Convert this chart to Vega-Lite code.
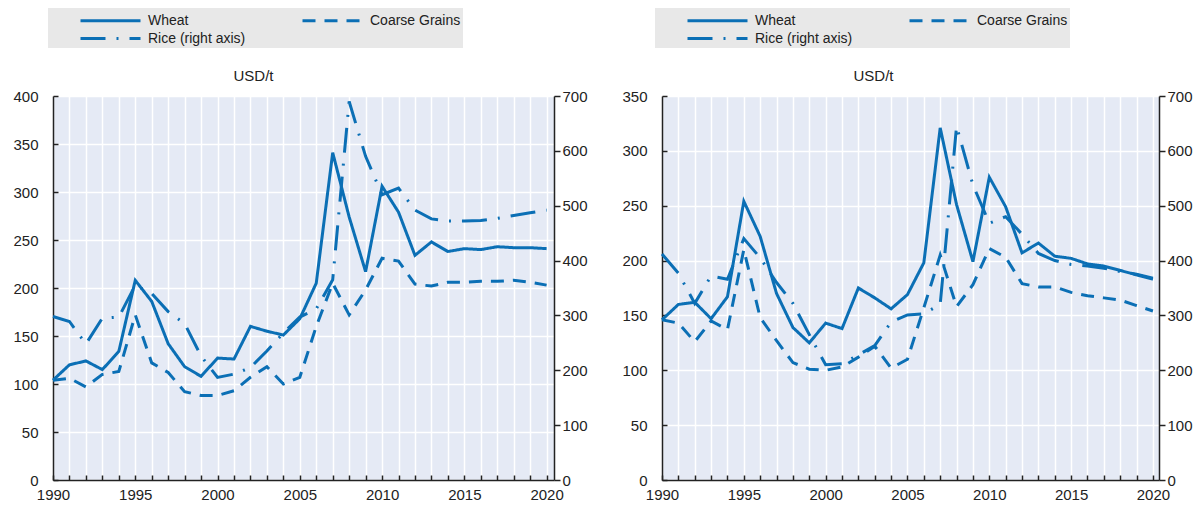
{
  "$schema": "https://vega.github.io/schema/vega-lite/v6.json",
  "background": "white",
  "padding": {"left": 12, "top": 8, "right": 5, "bottom": 5},
  "spacing": 33,
  "config": {
    "font": "Liberation Sans",
    "view": {"fill": "#e5eaf5", "stroke": null},
    "axis": {
      "labelFont": "Liberation Sans",
      "labelFontSize": 15,
      "labelColor": "#222222",
      "domainColor": "#222222",
      "domainWidth": 1.5,
      "tickColor": "#222222",
      "tickWidth": 1.5,
      "gridColor": "#ffffff",
      "gridWidth": 1.5,
      "gridOpacity": 1,
      "titleFont": "Liberation Sans",
      "titleFontSize": 15,
      "titleFontWeight": "normal",
      "titleColor": "#222222"
    },
    "legend": {
      "labelFont": "Liberation Sans",
      "labelFontSize": 14,
      "labelColor": "#222222"
    }
  },
  "datasets": {
    "left": [
      {"year": 1990, "Wheat": 104, "Coarse Grains": 104, "Rice (right axis)": 298},
      {"year": 1991, "Wheat": 120, "Coarse Grains": 106, "Rice (right axis)": 289},
      {"year": 1992, "Wheat": 124, "Coarse Grains": 97, "Rice (right axis)": 248},
      {"year": 1993, "Wheat": 115, "Coarse Grains": 110, "Rice (right axis)": 295},
      {"year": 1994, "Wheat": 134, "Coarse Grains": 113, "Rice (right axis)": 297},
      {"year": 1995, "Wheat": 208, "Coarse Grains": 172, "Rice (right axis)": 355},
      {"year": 1996, "Wheat": 186, "Coarse Grains": 122, "Rice (right axis)": 340},
      {"year": 1997, "Wheat": 142, "Coarse Grains": 112, "Rice (right axis)": 307},
      {"year": 1998, "Wheat": 118, "Coarse Grains": 92, "Rice (right axis)": 285},
      {"year": 1999, "Wheat": 108, "Coarse Grains": 88, "Rice (right axis)": 226},
      {"year": 2000, "Wheat": 127, "Coarse Grains": 88, "Rice (right axis)": 187},
      {"year": 2001, "Wheat": 126, "Coarse Grains": 93, "Rice (right axis)": 193},
      {"year": 2002, "Wheat": 160, "Coarse Grains": 107, "Rice (right axis)": 205},
      {"year": 2003, "Wheat": 155, "Coarse Grains": 118, "Rice (right axis)": 235},
      {"year": 2004, "Wheat": 151, "Coarse Grains": 100, "Rice (right axis)": 268},
      {"year": 2005, "Wheat": 168, "Coarse Grains": 107, "Rice (right axis)": 297},
      {"year": 2006, "Wheat": 205, "Coarse Grains": 160, "Rice (right axis)": 312},
      {"year": 2007, "Wheat": 341, "Coarse Grains": 205, "Rice (right axis)": 365},
      {"year": 2008, "Wheat": 274, "Coarse Grains": 172, "Rice (right axis)": 690},
      {"year": 2009, "Wheat": 217, "Coarse Grains": 198, "Rice (right axis)": 590},
      {"year": 2010, "Wheat": 306, "Coarse Grains": 231, "Rice (right axis)": 520},
      {"year": 2011, "Wheat": 279, "Coarse Grains": 228, "Rice (right axis)": 532},
      {"year": 2012, "Wheat": 234, "Coarse Grains": 204, "Rice (right axis)": 492},
      {"year": 2013, "Wheat": 248, "Coarse Grains": 202, "Rice (right axis)": 476},
      {"year": 2014, "Wheat": 238, "Coarse Grains": 206, "Rice (right axis)": 472},
      {"year": 2015, "Wheat": 241, "Coarse Grains": 206, "Rice (right axis)": 472},
      {"year": 2016, "Wheat": 240, "Coarse Grains": 207, "Rice (right axis)": 473},
      {"year": 2017, "Wheat": 243, "Coarse Grains": 207, "Rice (right axis)": 477},
      {"year": 2018, "Wheat": 242, "Coarse Grains": 208, "Rice (right axis)": 482},
      {"year": 2019, "Wheat": 242, "Coarse Grains": 206, "Rice (right axis)": 487},
      {"year": 2020, "Wheat": 241, "Coarse Grains": 203, "Rice (right axis)": 492}
    ],
    "right": [
      {"year": 1990, "Wheat": 146, "Coarse Grains": 146, "Rice (right axis)": 412},
      {"year": 1991, "Wheat": 160, "Coarse Grains": 143, "Rice (right axis)": 377},
      {"year": 1992, "Wheat": 162, "Coarse Grains": 126, "Rice (right axis)": 322},
      {"year": 1993, "Wheat": 147, "Coarse Grains": 145, "Rice (right axis)": 372},
      {"year": 1994, "Wheat": 167, "Coarse Grains": 137, "Rice (right axis)": 366},
      {"year": 1995, "Wheat": 254, "Coarse Grains": 210, "Rice (right axis)": 440},
      {"year": 1996, "Wheat": 222, "Coarse Grains": 148, "Rice (right axis)": 405},
      {"year": 1997, "Wheat": 170, "Coarse Grains": 127, "Rice (right axis)": 360},
      {"year": 1998, "Wheat": 139, "Coarse Grains": 107, "Rice (right axis)": 322},
      {"year": 1999, "Wheat": 125, "Coarse Grains": 101, "Rice (right axis)": 265},
      {"year": 2000, "Wheat": 143, "Coarse Grains": 100, "Rice (right axis)": 210},
      {"year": 2001, "Wheat": 138, "Coarse Grains": 103, "Rice (right axis)": 212},
      {"year": 2002, "Wheat": 175, "Coarse Grains": 112, "Rice (right axis)": 228},
      {"year": 2003, "Wheat": 166, "Coarse Grains": 122, "Rice (right axis)": 245},
      {"year": 2004, "Wheat": 156, "Coarse Grains": 102, "Rice (right axis)": 288},
      {"year": 2005, "Wheat": 169, "Coarse Grains": 110, "Rice (right axis)": 301},
      {"year": 2006, "Wheat": 198, "Coarse Grains": 157, "Rice (right axis)": 303},
      {"year": 2007, "Wheat": 321, "Coarse Grains": 205, "Rice (right axis)": 320},
      {"year": 2008, "Wheat": 251, "Coarse Grains": 158, "Rice (right axis)": 645},
      {"year": 2009, "Wheat": 199, "Coarse Grains": 178, "Rice (right axis)": 538},
      {"year": 2010, "Wheat": 276, "Coarse Grains": 211, "Rice (right axis)": 468},
      {"year": 2011, "Wheat": 249, "Coarse Grains": 203, "Rice (right axis)": 480},
      {"year": 2012, "Wheat": 207, "Coarse Grains": 179, "Rice (right axis)": 448},
      {"year": 2013, "Wheat": 216, "Coarse Grains": 176, "Rice (right axis)": 413},
      {"year": 2014, "Wheat": 204, "Coarse Grains": 176, "Rice (right axis)": 400},
      {"year": 2015, "Wheat": 202, "Coarse Grains": 171, "Rice (right axis)": 393},
      {"year": 2016, "Wheat": 197, "Coarse Grains": 168, "Rice (right axis)": 390},
      {"year": 2017, "Wheat": 195, "Coarse Grains": 166, "Rice (right axis)": 386},
      {"year": 2018, "Wheat": 191, "Coarse Grains": 164, "Rice (right axis)": 380},
      {"year": 2019, "Wheat": 187, "Coarse Grains": 159, "Rice (right axis)": 375},
      {"year": 2020, "Wheat": 183, "Coarse Grains": 154, "Rice (right axis)": 368}
    ]
  },
  "hconcat": [
    {
      "width": 501,
      "height": 384,
      "data": {"name": "left"},
      "encoding": {
        "x": {"field": "year", "type": "quantitative", "scale": {"domain": [1990, 2020.45], "nice": false, "zero": false},
          "axis": {"values": [1990,1991,1992,1993,1994,1995,1996,1997,1998,1999,2000,2001,2002,2003,2004,2005,2006,2007,2008,2009,2010,2011,2012,2013,2014,2015,2016,2017,2018,2019,2020],
            "format": "d", "labelExpr": "datum.value % 5 === 0 ? datum.label : ''", "grid": true, "tickSize": -5, "labelPadding": 12, "title": null, "labelFlush": false, "labelOverlap": false, "labelBound": false}}
      },
      "layer": [
        {
          "transform": [{"fold": ["Wheat", "Coarse Grains"], "as": ["series", "value"]}],
          "mark": {"type": "line", "strokeWidth": 3, "color": "#0b6fb5"},
          "encoding": {
            "y": {"field": "value", "type": "quantitative", "scale": {"domain": [0, 400], "nice": false},
              "axis": {"values": [0,50,100,150,200,250,300,350,400], "grid": true, "tickSize": -5, "labelPadding": 20,
                "title": "USD/t", "titleAngle": 0, "titleX": 200, "titleY": -16, "titleAlign": "center", "titleBaseline": "alphabetic"}},
            "strokeDash": {"field": "series", "type": "nominal",
              "scale": {"domain": ["Wheat", "Coarse Grains", "Rice (right axis)"], "range": [[1, 0], [13, 9], [25, 11, 2, 11]]},
              "legend": {"orient": "none", "legendX": -5, "legendY": -88, "title": null, "direction": "horizontal", "columns": 2,
                "symbolType": "M-3.3333,0H3.3333", "symbolSize": 324, "symbolStrokeWidth": 3, "symbolStrokeColor": "#0b6fb5", "symbolFillColor": "transparent",
                "fillColor": "#e8e8e8", "padding": 2, "symbolOffset": 50, "labelOffset": 27, "rowPadding": 0, "columnPadding": 26, "labelLimit": 300,
                "labelExpr": "datum.label === 'Coarse Grains' ? datum.label + '\u2003\u2003' : datum.label"}}
          }
        },
        {
          "transform": [{"fold": ["Rice (right axis)"], "as": ["series", "value"]}],
          "mark": {"type": "line", "strokeWidth": 3, "color": "#0b6fb5"},
          "encoding": {
            "y": {"field": "value", "type": "quantitative", "scale": {"domain": [0, 700], "nice": false},
              "axis": {"orient": "right", "values": [0,100,200,300,400,500,600,700], "grid": false, "title": null, "tickSize": 6, "labelPadding": 2}},
            "strokeDash": {"field": "series", "type": "nominal"}
          }
        }
      ],
      "resolve": {"scale": {"y": "independent"}}
    },
    {
      "width": 497,
      "height": 384,
      "data": {"name": "right"},
      "encoding": {
        "x": {"field": "year", "type": "quantitative", "scale": {"domain": [1990, 2020.37], "nice": false, "zero": false},
          "axis": {"values": [1990,1991,1992,1993,1994,1995,1996,1997,1998,1999,2000,2001,2002,2003,2004,2005,2006,2007,2008,2009,2010,2011,2012,2013,2014,2015,2016,2017,2018,2019,2020],
            "format": "d", "labelExpr": "datum.value % 5 === 0 ? datum.label : ''", "grid": true, "tickSize": -5, "labelPadding": 12, "title": null, "labelFlush": false, "labelOverlap": false, "labelBound": false}}
      },
      "layer": [
        {
          "transform": [{"fold": ["Wheat", "Coarse Grains"], "as": ["series", "value"]}],
          "mark": {"type": "line", "strokeWidth": 3, "color": "#0b6fb5"},
          "encoding": {
            "y": {"field": "value", "type": "quantitative", "scale": {"domain": [0, 350], "nice": false},
              "axis": {"values": [0,50,100,150,200,250,300,350], "grid": true, "tickSize": -5, "labelPadding": 20,
                "title": "USD/t", "titleAngle": 0, "titleX": 211, "titleY": -16, "titleAlign": "center", "titleBaseline": "alphabetic"}},
            "strokeDash": {"field": "series", "type": "nominal",
              "scale": {"domain": ["Wheat", "Coarse Grains", "Rice (right axis)"], "range": [[1, 0], [13, 9], [25, 11, 2, 11]]},
              "legend": {"orient": "none", "legendX": -7, "legendY": -88, "title": null, "direction": "horizontal", "columns": 2,
                "symbolType": "M-3.3333,0H3.3333", "symbolSize": 324, "symbolStrokeWidth": 3, "symbolStrokeColor": "#0b6fb5", "symbolFillColor": "transparent",
                "fillColor": "#e8e8e8", "padding": 2, "symbolOffset": 50, "labelOffset": 27, "rowPadding": 0, "columnPadding": 26, "labelLimit": 300,
                "labelExpr": "datum.label === 'Coarse Grains' ? datum.label + '\u2003\u2003' : datum.label"}}
          }
        },
        {
          "transform": [{"fold": ["Rice (right axis)"], "as": ["series", "value"]}],
          "mark": {"type": "line", "strokeWidth": 3, "color": "#0b6fb5"},
          "encoding": {
            "y": {"field": "value", "type": "quantitative", "scale": {"domain": [0, 700], "nice": false},
              "axis": {"orient": "right", "values": [0,100,200,300,400,500,600,700], "grid": false, "title": null, "tickSize": 6, "labelPadding": 2}},
            "strokeDash": {"field": "series", "type": "nominal"}
          }
        }
      ],
      "resolve": {"scale": {"y": "independent"}}
    }
  ],
  "resolve": {"scale": {"strokeDash": "independent"}, "legend": {"strokeDash": "independent"}}
}
